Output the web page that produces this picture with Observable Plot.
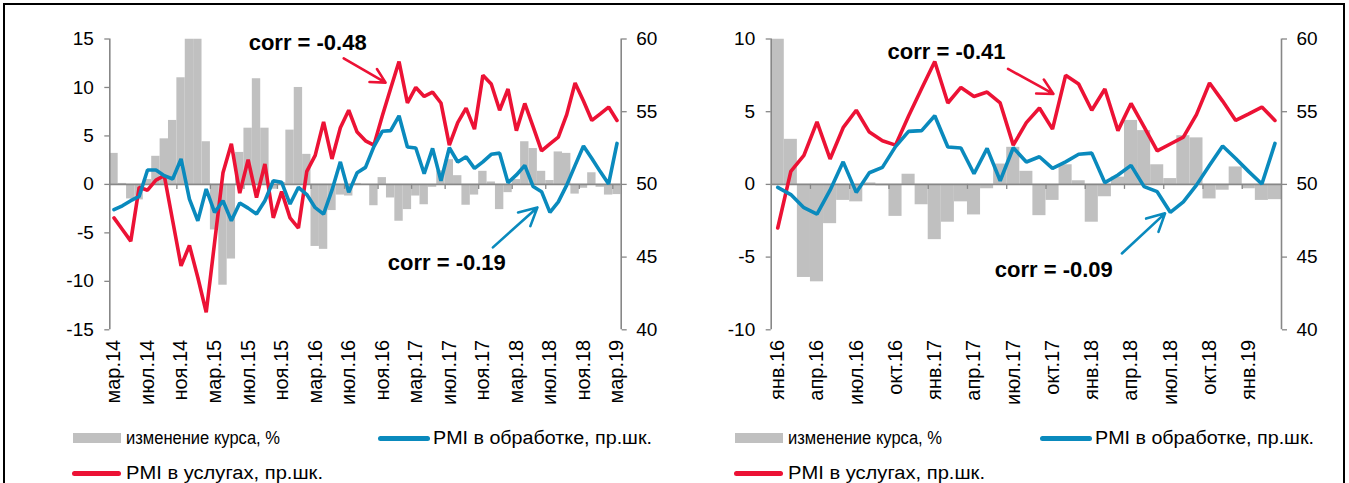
<!DOCTYPE html>
<html><head><meta charset="utf-8">
<script src="https://cdn.jsdelivr.net/npm/d3@7"></script>
<script src="https://cdn.jsdelivr.net/npm/@observablehq/plot@0.6"></script>
<style>
html,body{margin:0;padding:0;width:1349px;height:483px;overflow:hidden;background:#fff;font-family:"Liberation Sans",Arial,sans-serif;}
#frame{position:absolute;left:3px;top:3px;width:1342px;height:540px;border:2px solid #000;box-sizing:border-box;}
.panel{position:absolute;top:0;}
.sw{position:absolute;}
.lt{position:absolute;font-size:18px;line-height:20px;color:#000;white-space:nowrap;transform-origin:0 50%;}
</style></head>
<body>
<div id="frame"></div>
<div id="p1" class="panel" style="left:0px"></div>
<div id="p2" class="panel" style="left:680px"></div>
<div id="legend"></div>
<script>
// ---------- data (monthly, мар.14 … мар.19) ----------
const fxChange = [3.2,0.1,-1.5,-1.6,0.5,2.9,4.7,6.6,11.0,15.0,15.0,4.4,-4.7,-10.4,-7.7,3.3,5.8,10.9,5.8,-0.5,
  0.2,5.6,10.0,3.1,-6.4,-6.7,-2.7,-1.1,-1.2,0.1,-0.1,-2.2,0.7,-1.4,-3.8,-2.6,-1.2,-2.1,-0.3,1.4,
  2.55,0.9,-2.15,-1.1,1.35,0.25,-2.6,-0.85,0.5,4.4,3.7,1.35,0.4,3.35,3.2,-1.0,-0.4,1.2,-0.3,-1.1,-1.05];
const pmiServices = [47.7,46.9,46.1,49.8,49.6,50.3,50.6,47.5,44.4,45.8,43.6,41.2,46.0,50.8,52.8,49.4,51.7,49.1,51.4,47.7,
  49.5,47.7,47.0,50.9,52.0,54.3,51.75,53.9,55.1,53.6,53.0,52.7,54.7,56.6,58.45,55.6,56.67,56.05,56.35,55.6,
  52.7,54.25,55.25,53.8,57.5,56.9,55.1,56.56,53.7,55.57,53.95,52.3,52.78,53.25,54.8,56.97,55.73,54.4,54.85,55.32,54.4];
const pmiManufacturing = [48.26,48.53,48.88,49.17,50.99,50.99,50.6,50.37,51.75,48.99,47.5,49.68,48.07,48.88,47.5,48.72,48.37,47.96,48.88,50.25,
  50.14,48.65,49.8,49.3,48.4,47.96,49.6,51.55,49.45,50.8,51.17,52.6,53.65,53.7,54.72,52.57,52.5,50.73,52.48,50.25,
  52.52,51.54,51.9,51.1,51.55,52.07,52.15,50.12,50.65,51.31,49.85,49.5,48.08,48.8,49.95,51.31,52.64,51.78,50.88,50.03,52.82];
const rightStart = 22; // right panel starts at янв.16

const tickLabelsLeft = ["мар.14","июл.14","ноя.14","мар.15","июл.15","ноя.15","мар.16","июл.16","ноя.16","мар.17","июл.17","ноя.17","мар.18","июл.18","ноя.18","мар.19"];
const tickLabelsRight = ["янв.16","апр.16","июл.16","окт.16","янв.17","апр.17","июл.17","окт.17","янв.18","апр.18","июл.18","окт.18","янв.19"];
const seriesNames = ["изменение курса, %","PMI в обработке, пр.шк.","PMI в услугах, пр.шк."];
const corrLeft = ["corr = -0.48","corr = -0.19"];
const corrRight = ["corr = -0.41","corr = -0.09"];

const RED = "#ec1235", BLUE = "#0a8abd", GREY = "#c0c0c0", AXIS = "#878787";

function panel(opts) {
  const {fx, srv, mfg, yMax, step, labels, width, ml, mr, ann} = opts;
  const n = fx.length;
  const k = yMax / 10;               // pct units per PMI point (PMI 40..60)
  const data = d3.range(n).map(i => ({i, fx: fx[i], srv: (srv[i] - 50) * k, mfg: (mfg[i] - 50) * k}));
  const tickLen = 5 * (2 * yMax) / 290.8;
  const bounds = d3.range(step, n, step).map(b => b - 0.5);
  const labelIdx = d3.range(0, n, step);
  return Plot.plot({
    width, height: 420,
    marginLeft: ml, marginRight: mr, marginTop: 38.5, marginBottom: 90.7,
    x: {type: "linear", domain: [-0.5, n - 0.5]},
    y: {domain: [-yMax, yMax]},
    style: {fontFamily: "'Liberation Sans', Arial, sans-serif", fontSize: "19px", color: "#000", background: "transparent", overflow: "visible"},
    marks: [
      Plot.rect(data, {x1: d => d.i - 0.5, x2: d => d.i + 0.5, y1: () => 0, y2: "fx", fill: GREY, clip: true}),
      Plot.ruleY([0], {stroke: AXIS, strokeWidth: 1.6}),
      Plot.ruleX(bounds, {y1: () => 0, y2: () => -tickLen, stroke: AXIS, strokeWidth: 1.3}),
      Plot.ruleX([-0.5, n - 0.5], {y1: () => -yMax, y2: () => yMax, stroke: AXIS, strokeWidth: 1.6}),
      Plot.axisY({anchor: "left", ticks: d3.range(-yMax, yMax + 0.001, 5), tickFormat: d => String(d), tickSize: 5, tickPadding: 11, stroke: AXIS, strokeWidth: 1.3, label: null, fontSize: 19}),
      Plot.axisY({anchor: "right", ticks: [40,45,50,55,60].map(p => (p - 50) * k), tickFormat: d => String(Math.round(50 + d / k)), tickSize: 5, tickPadding: 10, stroke: AXIS, strokeWidth: 1.3, label: null, fontSize: 19}),
      Plot.axisX({ticks: labelIdx, tickFormat: i => labels[i / step], tickRotate: -90, tickSize: 0, tickPadding: 10, label: null, fontSize: 20}),
      Plot.line(data, {x: "i", y: "srv", stroke: RED, strokeWidth: 3.6, strokeLinejoin: "miter"}),
      Plot.line(data, {x: "i", y: "mfg", stroke: BLUE, strokeWidth: 3.6, strokeLinejoin: "miter"}),
      Plot.arrow(ann.arrows, {x1: "x1", y1: "y1", x2: "x2", y2: "y2", stroke: "c", strokeWidth: 2.6, headLength: 15, headAngle: 55}),
      Plot.text(ann.texts, {x: "x", y: "y", text: "t", fontWeight: "bold", fontSize: 22, fill: "#000"})
    ]
  });
}

const annL = {
  texts: [{x: 23.1, y: 14.6, t: corrLeft[0]}, {x: 39.7, y: -8.06, t: corrLeft[1]}],
  arrows: [{x1: 27.4, y1: 12.99, x2: 32.4, y2: 10.5, c: RED}, {x1: 45.2, y1: -6.5, x2: 50.5, y2: -2.38, c: BLUE}]
};
const annR = {
  texts: [{x: 12.9, y: 9.08, t: corrRight[0]}, {x: 21.1, y: -5.89, t: corrRight[1]}],
  arrows: [{x1: 17.6, y1: 7.94, x2: 21.07, y2: 6.22, c: RED}, {x1: 26.3, y1: -4.75, x2: 29.6, y2: -1.99, c: BLUE}]
};

document.getElementById("p1").append(panel({
  fx: fxChange, srv: pmiServices, mfg: pmiManufacturing, yMax: 15, step: 4, labels: tickLabelsLeft,
  width: 675, ml: 109.3, mr: 54.3, ann: annL
}));
document.getElementById("p2").append(panel({
  fx: fxChange.slice(rightStart), srv: pmiServices.slice(rightStart), mfg: pmiManufacturing.slice(rightStart),
  yMax: 10, step: 3, labels: tickLabelsRight, width: 669, ml: 90.7, mr: 68, ann: annR
}));

// ---------- legends ----------
const leg = document.getElementById("legend");
const fitWidths = [154, 219, 197]; // rendered text widths in the reference legend
function add(html){ leg.insertAdjacentHTML("beforeend", html); }
[0, 662].forEach(dx => {
  add(`<div class="sw" style="left:${73+dx}px;top:433px;width:48px;height:10px;background:${GREY}"></div>`);
  add(`<div class="lt" data-s="0" style="left:${126+dx}px;top:428px">${seriesNames[0]}</div>`);
  add(`<div class="sw" style="left:${378+dx}px;top:435.5px;width:52px;height:5px;border-radius:3px;background:${BLUE}"></div>`);
  add(`<div class="lt" data-s="1" style="left:${433+dx}px;top:428px">${seriesNames[1]}</div>`);
  add(`<div class="sw" style="left:${72+dx}px;top:470.5px;width:49px;height:5px;border-radius:3px;background:${RED}"></div>`);
  add(`<div class="lt" data-s="2" style="left:${126+dx}px;top:463px">${seriesNames[2]}</div>`);
});
leg.querySelectorAll(".lt").forEach(el => {
  const w = el.getBoundingClientRect().width;
  if (w > 0) el.style.transform = `scaleX(${fitWidths[+el.dataset.s] / w})`;
});
</script>
</body></html>
